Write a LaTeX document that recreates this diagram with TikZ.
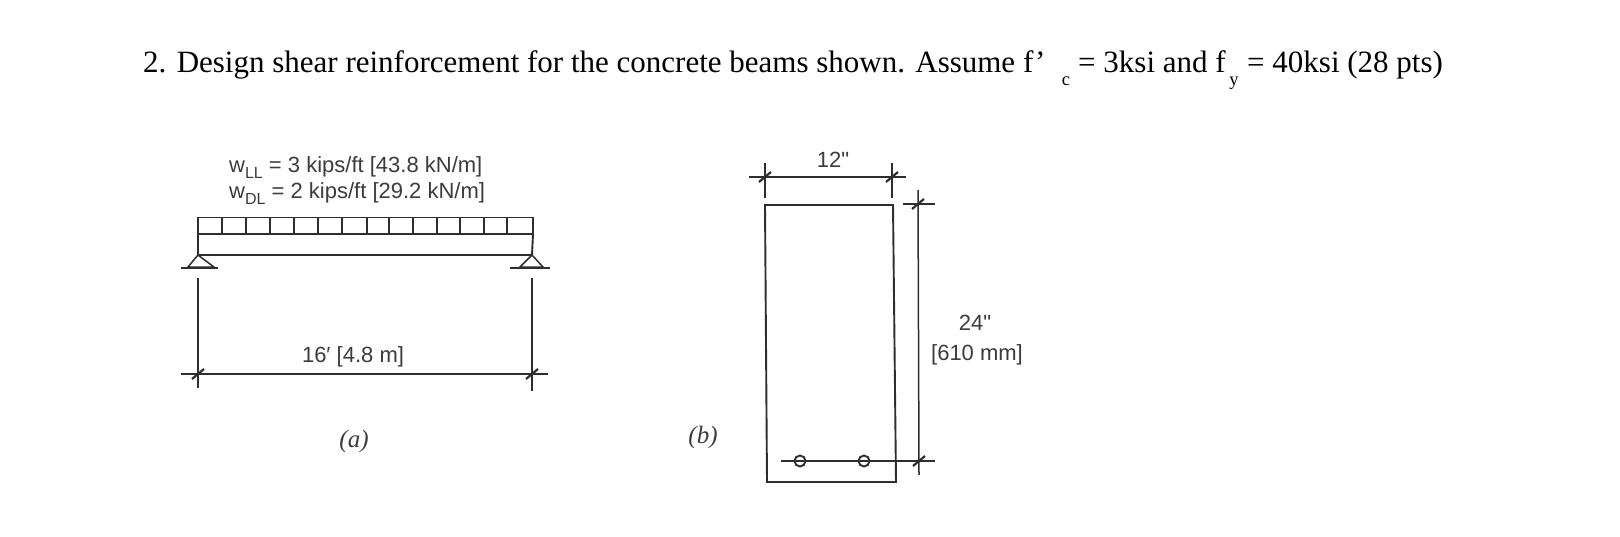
\documentclass[tikz,border=0pt]{standalone}
\usepackage{fontspec}
\setmainfont{Liberation Serif}
\newfontfamily\lblfont{Liberation Sans}
\definecolor{ink}{HTML}{2E2E2E}
\definecolor{lbl}{HTML}{3C3C3C}
\tikzset{
  titletext/.style={anchor=base west,inner sep=0pt,font=\fontsize{31}{36}\selectfont,text=black},
  subtext/.style={anchor=base,inner sep=0pt,font=\fontsize{18.5}{22}\selectfont,text=black},
  dimtext/.style={anchor=base,inner sep=0pt,font=\lblfont\fontsize{22}{26}\selectfont,text=lbl},
  captext/.style={anchor=base,inner sep=0pt,font=\itshape\fontsize{25}{30}\selectfont,text=lbl},
  member/.style={line width=1.9pt,draw=ink,line join=miter},
  thin line/.style={line width=1.5pt,draw=ink},
  tickmark/.style={line width=2.2pt,draw=ink}
}
\newcommand{\slashtick}[1]{\draw[tickmark] ([shift={(-6,5)}]#1) -- ([shift={(6,-5)}]#1);}
\begin{document}
\begin{tikzpicture}[x=1pt,y=-1pt]
\useasboundingbox (0,0) rectangle (1620,536);
\fill[white] (0,0) rectangle (1620,536);
% title
\node[titletext] (t1) at (143,72) {2. Design shear reinforcement for the concrete beams shown. Assume f’};
\node[subtext] (tc) at (1066,85) {c};
\node[titletext] (t2) at (1078,72) {= 3ksi and f};
\node[subtext] (ty) at (1234,85) {y};
\node[titletext] (t3) at (1247,72) {= 40ksi (28 pts)};
% loads text
\node[dimtext,anchor=base west] (wll) at (229,172) {w\raisebox{-0.28em}{\fontsize{16}{18}\selectfont LL} = 3 kips/ft [43.8 kN/m]};
\node[dimtext,anchor=base west] (wdl) at (229,198) {w\raisebox{-0.28em}{\fontsize{16}{18}\selectfont DL} = 2 kips/ft [29.2 kN/m]};
% beam
\draw[member] (198,217.5) rectangle (533,234);
\draw[member] (198,234) -- (198,255) -- (532,255) -- (533,234);
\foreach \x in {222,246,270,294,318,342,367,389,413,437,460,484,507}
  \draw[thin line] (\x,218) -- (\x,234);
% supports
\draw[thin line] (198,255) -- (188,267) -- (214,267) -- cycle;
\draw[thin line] (181,268) -- (218,268);
\draw[thin line] (532,255) -- (520,267) -- (543,267) -- cycle;
\draw[thin line] (510,268) -- (550,268);
% span dimension
\coordinate (sl) at (198,374);
\coordinate (sr) at (532,374);
\draw[thin line] (198,278) -- (198,388);
\draw[thin line] (532,278) -- (532,391);
\draw[thin line] (181,374) -- (548,374);
\slashtick{sl}
\slashtick{sr}
\node[dimtext] (span) at (353,362) {16′ [4.8 m]};
\node[captext] (capa) at (354,447) {(a)};
% section
\draw[member] (765,205) -- (893,205) -- (896,482) -- (767,482) -- cycle;
% top dimension
\coordinate (tl) at (765,177);
\coordinate (tr) at (892,177);
\draw[thin line] (749,177) -- (906,177);
\draw[thin line] (765,163) -- (765,198);
\draw[thin line] (892,163) -- (892,198);
\slashtick{tl}
\slashtick{tr}
\node[dimtext] (w12) at (833,167) {12"};
% right dimension
\coordinate (rt) at (918,204);
\coordinate (rb) at (919,461);
\draw[thin line] (918,190) -- (919,475);
\draw[thin line] (903,204) -- (935,204);
\draw[thin line] (781,461) -- (935,461);
\slashtick{rt}
\slashtick{rb}
\node[dimtext] (h24) at (975,330) {24"};
\node[dimtext] (h610) at (977,360) {[610 mm]};
% bars
\node[circle,draw=ink,line width=1.9pt,fill=none,minimum size=11pt,inner sep=0pt] (bar1) at (800,461) {};
\node[circle,draw=ink,line width=1.9pt,fill=none,minimum size=11pt,inner sep=0pt] (bar2) at (864,461) {};
\node[captext] (capb) at (703,443) {(b)};
\end{tikzpicture}
\end{document}
